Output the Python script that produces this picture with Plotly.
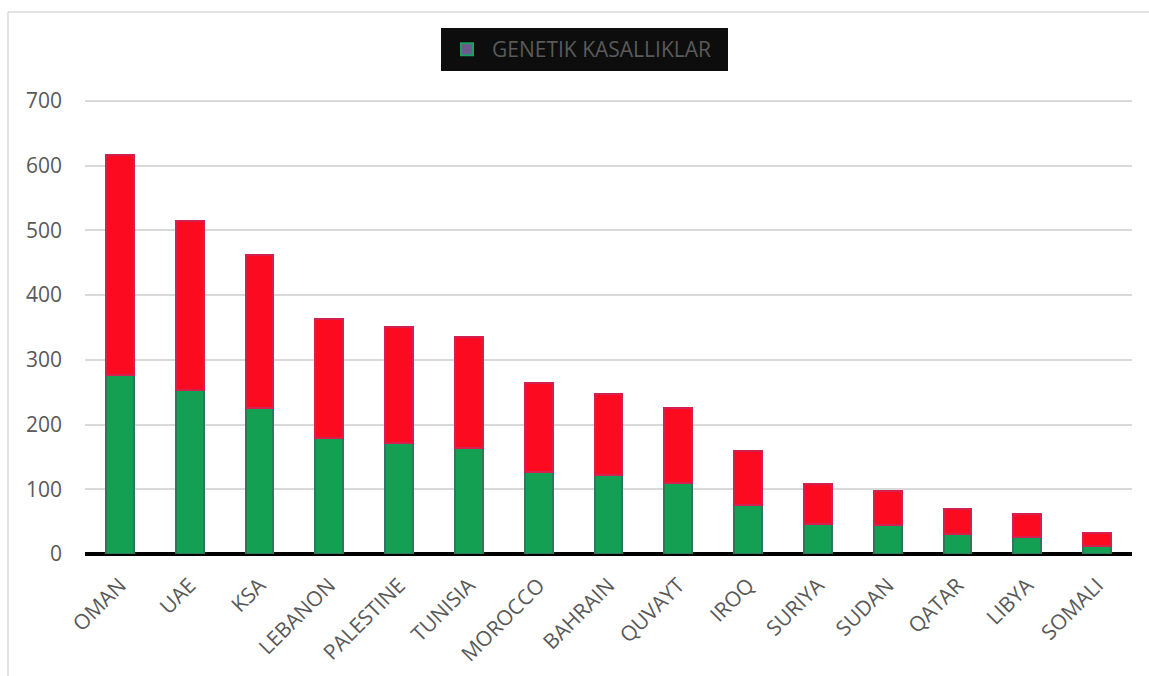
import plotly.graph_objects as go

countries = ["OMAN", "UAE", "KSA", "LEBANON", "PALESTINE", "TUNISIA", "MOROCCO",
             "BAHRAIN", "QUVAYT", "IROQ", "SURIYA", "SUDAN", "QATAR", "LIBYA", "SOMALI"]
lower_values = [277, 253, 226, 179, 172, 164, 127, 122, 110, 76, 46, 45, 31, 26, 13]
total_values = [617, 515, 462, 363, 351, 335, 264, 247, 226, 159, 108, 97, 70, 62, 33]
upper_values = [t - l for t, l in zip(total_values, lower_values)]
legend_name = "GENETIK KASALLIKLAR"
y_ticks = [0, 100, 200, 300, 400, 500, 600, 700]

W, H = 1149, 676
L, R, T, B = 85, 17, 15, 122
PW, PH = W - L - R, H - T - B
# vertical scale: 700 units span from the zero line (y=554) up to y=101
PX_PER_UNIT = (554 - 101) / 700
Y_TOP = (554 - T) / PX_PER_UNIT


def py(y_px):
    """paper y for a pixel row"""
    return (H - B - y_px) / PH


def px(x_px):
    """paper x for a pixel column"""
    return (x_px - L) / PW


fig = go.Figure()
fig.add_trace(go.Bar(
    x=countries, y=lower_values, name="lower", showlegend=False,
    marker=dict(color="#13a052", line=dict(color="#2f7560", width=2)),
))
fig.add_trace(go.Bar(
    x=countries, y=upper_values, name="upper", showlegend=False,
    marker=dict(color="#fb0a20", line=dict(color="#d4204e", width=2)),
))
# legend entry only
fig.add_trace(go.Bar(
    x=[countries[0]], y=[None], name=legend_name + "\u00a0\u00a0", showlegend=True,
    marker=dict(color="#6c5a8e", line=dict(color="#1aa060", width=1)),
))

fig.update_layout(
    width=W, height=H,
    margin=dict(l=L, r=R, t=T, b=B),
    paper_bgcolor="white", plot_bgcolor="white",
    barmode="stack", bargap=0.6,
    font=dict(family="Open Sans, sans-serif", color="#595959"),
    showlegend=True,
    legend=dict(
        orientation="h", x=px(584.5), xanchor="center", xref="paper",
        y=py(28), yanchor="top", yref="paper",
        bgcolor="#0d0d0d", bordercolor="#0d0d0d", borderwidth=1,
        font=dict(size=21, color="#5a5a5a"),
        itemsizing="constant", itemwidth=40,
    ),
    xaxis=dict(
        tickangle=-45, tickfont=dict(size=21, color="#595959"),
        showline=False, showgrid=False, ticks="", ticklabelstandoff=14,
        automargin=False,
    ),
    yaxis=dict(
        range=[0, Y_TOP], tickvals=y_ticks, tickfont=dict(size=21, color="#595959"),
        showgrid=True, gridcolor="#d9d9d9", gridwidth=1.5,
        zeroline=True, zerolinecolor="#000000", zerolinewidth=4,
        showline=False, ticks="", ticklabelstandoff=22, automargin=False,
    ),
    shapes=[
        # outer frame: top edge and left edge
        dict(type="line", xref="paper", yref="paper",
             x0=px(8), x1=px(W), y0=py(12), y1=py(12),
             line=dict(color="#d9d9d9", width=1.5)),
        dict(type="line", xref="paper", yref="paper",
             x0=px(8), x1=px(8), y0=py(12), y1=py(H),
             line=dict(color="#d9d9d9", width=1.5)),
    ],
)

fig.write_html("out.html")
